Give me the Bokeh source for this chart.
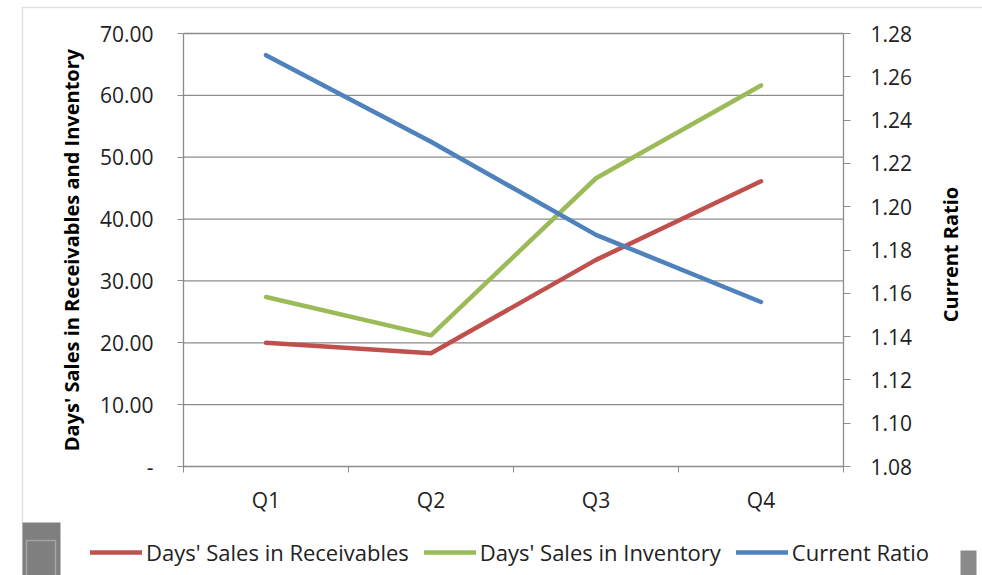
import math
from bokeh.plotting import figure
from bokeh.models import (Range1d, LinearAxis, FixedTicker, CustomJSTickFormatter,
                          NumeralTickFormatter, Legend, LegendItem, Label, BoxAnnotation)
from bokeh.embed import file_html
from bokeh.resources import INLINE

# ---- data ----
quarters = ["Q1", "Q2", "Q3", "Q4"]
receivables = [20.0, 18.3, 33.4, 46.1]
inventory = [27.4, 21.2, 46.6, 61.6]
current_ratio = [1.270, 1.230, 1.187, 1.156]
series_names = ["Days' Sales in Receivables", "Days' Sales in Inventory", "Current Ratio"]
series_colors = ["#C0504D", "#9BBB59", "#4F81BD"]
left_ticks = [0, 10, 20, 30, 40, 50, 60, 70]
right_ticks = [1.08, 1.10, 1.12, 1.14, 1.16, 1.18, 1.20, 1.22, 1.24, 1.26, 1.28]

FONT = "Open Sans"
TXT = "#222222"
AXIS_GRAY = "#8c8c8c"
W, H = 982, 575
# plot-area box inside the canvas (pixels)
PA_LEFT, PA_RIGHT, PA_TOP, PA_BOTTOM = 183, 843, 33, 466

n = len(quarters)
x_pos = [i + 0.5 for i in range(n)]
boundaries = list(range(n + 1))

# ranges chosen so that the plot area sits at the box above while the frame is the whole canvas
xpx = (PA_RIGHT - PA_LEFT) / n
x_range = Range1d(-PA_LEFT / xpx, n + (W - PA_RIGHT) / xpx)
ly0, ly1 = left_ticks[0], left_ticks[-1]
lpx = (PA_BOTTOM - PA_TOP) / (ly1 - ly0)
y_range = Range1d(ly0 - (H - PA_BOTTOM) / lpx, ly1 + PA_TOP / lpx)
ry0, ry1 = right_ticks[0], right_ticks[-1]
rpx = (PA_BOTTOM - PA_TOP) / (ry1 - ry0)
ratio_range = Range1d(ry0 - (H - PA_BOTTOM) / rpx, ry1 + PA_TOP / rpx)


def px_x(px):
    return x_range.start + px / xpx


def px_y(py):
    return y_range.end - py / lpx


p = figure(width=W, height=H, output_backend="svg", toolbar_location=None,
           x_range=x_range, y_range=y_range,
           min_border_left=0, min_border_right=0, min_border_top=0, min_border_bottom=0)
p.outline_line_color = None
p.background_fill_color = "white"
p.border_fill_color = "white"
p.xgrid.visible = False
p.ygrid.visible = False
p.extra_y_ranges = {"ratio": ratio_range}

# chart-area border of the worksheet object (left and top edges)
p.add_layout(BoxAnnotation(left=px_x(22), right=px_x(W + 20), top=px_y(7), bottom=px_y(H + 20),
                           fill_alpha=0, line_color="#a0a0a0", line_width=1.5, level="underlay"))

# horizontal gridlines (top one closes the plot area)
p.segment(x0=[0] * (len(left_ticks) - 1), x1=[n] * (len(left_ticks) - 1),
          y0=left_ticks[1:], y1=left_ticks[1:], line_color=AXIS_GRAY, line_width=1.3)

# x axis
xa = p.xaxis[0]
xa.fixed_location = 0
xa.bounds = (0, n)
xa.ticker = FixedTicker(ticks=x_pos, minor_ticks=boundaries)
xa.formatter = CustomJSTickFormatter(args=dict(labels=quarters),
                                     code="return labels[Math.floor(tick)];")
xa.major_tick_out = 0
xa.major_tick_in = 0
xa.minor_tick_out = 6
xa.minor_tick_in = 0
xa.minor_tick_line_color = AXIS_GRAY
xa.axis_line_color = AXIS_GRAY
xa.axis_line_width = 1.3
xa.major_label_standoff = 13
xa.major_label_text_font = FONT
xa.major_label_text_font_size = "21px"
xa.major_label_text_color = TXT

# left axis
ya = p.yaxis[0]
ya.fixed_location = 0
ya.bounds = (ly0, ly1)
ya.ticker = FixedTicker(ticks=left_ticks)
ya.formatter = CustomJSTickFormatter(code="return tick == 0 ? '-' : tick.toFixed(2);")
ya.major_tick_out = 6
ya.major_tick_in = 0
ya.minor_tick_out = 0
ya.minor_tick_in = 0
ya.major_tick_line_color = AXIS_GRAY
ya.axis_line_color = AXIS_GRAY
ya.axis_line_width = 1.3
ya.major_label_standoff = 24
ya.major_label_text_font = FONT
ya.major_label_text_font_size = "21px"
ya.major_label_text_color = TXT
ya.axis_label = "Days' Sales in Receivables and Inventory"
ya.axis_label_text_font = FONT
ya.axis_label_text_font_style = "bold"
ya.axis_label_text_font_size = "20px"
ya.axis_label_text_color = "black"
ya.axis_label_standoff = 12

# right axis
ra = LinearAxis(y_range_name="ratio", fixed_location=n, bounds=(ry0, ry1),
                ticker=FixedTicker(ticks=right_ticks),
                formatter=NumeralTickFormatter(format="0.00"))
ra.major_tick_out = 7
ra.major_tick_in = 0
ra.minor_tick_out = 0
ra.minor_tick_in = 0
ra.major_tick_line_color = AXIS_GRAY
ra.axis_line_color = AXIS_GRAY
ra.axis_line_width = 1.3
ra.major_label_standoff = 20
ra.major_label_text_font = FONT
ra.major_label_text_font_size = "21px"
ra.major_label_text_color = TXT
p.add_layout(ra, "right")

# right axis title, reading bottom to top
p.add_layout(Label(x=950, y=H - 254, x_units="screen", y_units="screen",
                   text="Current Ratio", angle=math.pi / 2,
                   text_align="center", text_baseline="middle",
                   text_font=FONT, text_font_style="bold", text_font_size="20px",
                   text_color="black"))

# series
r1 = p.line(x_pos, receivables, line_color=series_colors[0], line_width=4.5,
            line_join="round", line_cap="round")
r2 = p.line(x_pos, inventory, line_color=series_colors[1], line_width=4.5,
            line_join="round", line_cap="round")
r3 = p.line(x_pos, current_ratio, y_range_name="ratio", line_color=series_colors[2], line_width=4.5,
            line_join="round", line_cap="round")

legend = Legend(items=[LegendItem(label=series_names[0], renderers=[r1]),
                       LegendItem(label=series_names[1], renderers=[r2]),
                       LegendItem(label=series_names[2], renderers=[r3])],
                orientation="horizontal", location=(90, 8),
                glyph_width=52, glyph_height=24, label_standoff=4, spacing=15,
                padding=0, margin=0, border_line_color=None, background_fill_alpha=0,
                label_text_font=FONT, label_text_font_size="22px", label_text_color=TXT)
p.add_layout(legend, "center")

# worksheet UI chrome at the bottom edge (expand button, scrollbar stub)
p.add_layout(BoxAnnotation(left=px_x(22), right=px_x(60), top=px_y(522), bottom=px_y(H + 5),
                           fill_color="#7f7f7f", fill_alpha=1, line_color=None))
p.add_layout(BoxAnnotation(left=px_x(26), right=px_x(55), top=px_y(540), bottom=px_y(H + 5),
                           fill_alpha=0, line_color="white", line_width=1.5))
p.add_layout(BoxAnnotation(left=px_x(960), right=px_x(976), top=px_y(550), bottom=px_y(H + 5),
                           fill_color="#8a8a8a", fill_alpha=1, line_color=None))

open("out.html", "w").write(file_html(p, INLINE))
